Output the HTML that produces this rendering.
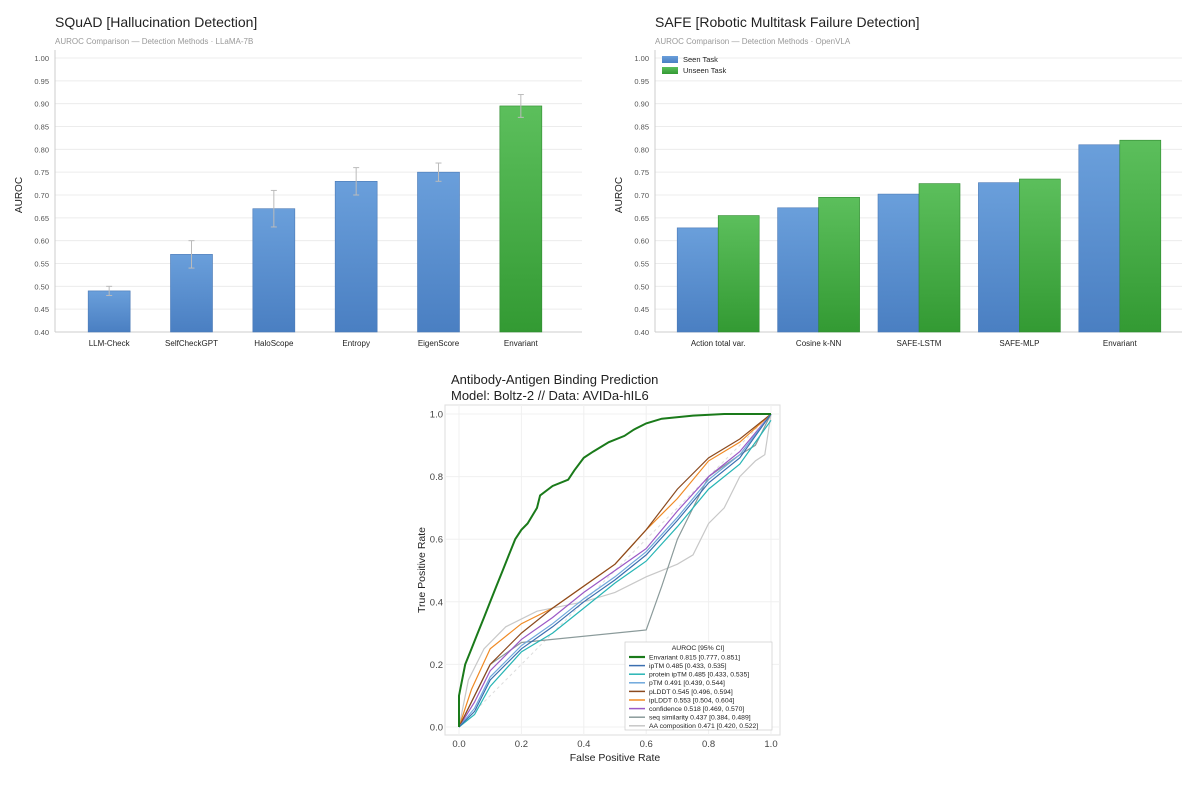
<!DOCTYPE html>
<html><head><meta charset="utf-8"><style>
body{margin:0;background:#fff;font-family:"Liberation Sans",sans-serif}
svg text{font-family:"Liberation Sans",sans-serif}
</style></head><body>
<svg id="s" width="1200" height="783" xmlns="http://www.w3.org/2000/svg">
<text x="55" y="27" font-size="14" fill="#222">SQuAD  [Hallucination Detection]</text>
<text x="55" y="44" font-size="8" fill="#999">AUROC Comparison — Detection Methods  ·  LLaMA-7B</text>
<text x="655" y="27" font-size="14" fill="#222">SAFE [Robotic Multitask Failure Detection]</text>
<text x="655" y="44" font-size="8" fill="#999">AUROC Comparison — Detection Methods  ·  OpenVLA</text>
<text x="451" y="384" font-size="13" fill="#222">Antibody-Antigen Binding Prediction</text>
<text x="451" y="400" font-size="13" fill="#222">Model: Boltz-2 // Data: AVIDa-hIL6</text>
<defs>
<linearGradient id="gb" x1="0" y1="0" x2="0" y2="1"><stop offset="0" stop-color="#6a9fdb"/><stop offset="1" stop-color="#4a7fc2"/></linearGradient>
<linearGradient id="gg" x1="0" y1="0" x2="0" y2="1"><stop offset="0" stop-color="#5cbf5c"/><stop offset="1" stop-color="#339a33"/></linearGradient>
</defs>
<g id="g1"></g><g id="g2"></g><g id="g3"></g>
</svg>
<script>
const squadCats=["LLM-Check","SelfCheckGPT","HaloScope","Entropy","EigenScore","Envariant"];
const squadVals=[0.49,0.57,0.67,0.73,0.75,0.895];
const squadErr=[0.01,0.03,0.04,0.03,0.02,0.025];
const safeCats=["Action total var.","Cosine k-NN","SAFE-LSTM","SAFE-MLP","Envariant"];
const safeSeen=[0.628,0.672,0.702,0.727,0.81];
const safeUnseen=[0.655,0.695,0.725,0.735,0.82];
const barTicks=["0.40","0.45","0.50","0.55","0.60","0.65","0.70","0.75","0.80","0.85","0.90","0.95","1.00"];
const rocTicks=["0.0","0.2","0.4","0.6","0.8","1.0"];
const rocNames=["Envariant  0.815 [0.777, 0.851]","ipTM  0.485 [0.433, 0.535]","protein ipTM  0.485 [0.433, 0.535]","pTM  0.491 [0.439, 0.544]","pLDDT  0.545 [0.496, 0.594]","ipLDDT  0.553 [0.504, 0.604]","confidence  0.518 [0.469, 0.570]","seq similarity  0.437 [0.384, 0.489]","AA composition  0.471 [0.420, 0.522]"];
const rocEnvariant=[[0,0],[0,0.1],[0.01,0.15],[0.02,0.2],[0.04,0.25],[0.06,0.3],[0.08,0.35],[0.1,0.4],[0.12,0.45],[0.14,0.5],[0.16,0.55],[0.18,0.6],[0.2,0.63],[0.22,0.65],[0.25,0.7],[0.26,0.74],[0.3,0.77],[0.35,0.79],[0.37,0.82],[0.4,0.86],[0.43,0.88],[0.48,0.91],[0.53,0.93],[0.56,0.95],[0.6,0.97],[0.65,0.985],[0.75,0.995],[0.85,1],[1,1]];
const rocIptm=[[0,0],[0.05,0.05],[0.1,0.15],[0.2,0.25],[0.3,0.32],[0.4,0.4],[0.5,0.47],[0.6,0.55],[0.7,0.66],[0.8,0.78],[0.9,0.86],[1,1]];
const rocProtIptm=[[0,0],[0.05,0.04],[0.1,0.13],[0.2,0.24],[0.3,0.3],[0.4,0.38],[0.5,0.46],[0.6,0.53],[0.7,0.64],[0.8,0.76],[0.9,0.84],[1,0.98]];
const rocPtm=[[0,0],[0.05,0.06],[0.1,0.16],[0.2,0.26],[0.3,0.33],[0.4,0.41],[0.5,0.48],[0.6,0.56],[0.7,0.67],[0.8,0.79],[0.9,0.87],[1,1]];
const rocPlddt=[[0,0],[0.05,0.1],[0.1,0.2],[0.2,0.3],[0.3,0.38],[0.4,0.45],[0.5,0.52],[0.6,0.63],[0.7,0.76],[0.8,0.86],[0.9,0.92],[1,1]];
const rocIplddt=[[0,0],[0.04,0.12],[0.1,0.25],[0.2,0.33],[0.3,0.38],[0.4,0.45],[0.5,0.52],[0.6,0.63],[0.7,0.73],[0.8,0.85],[0.9,0.91],[1,1]];
const rocConf=[[0,0],[0.05,0.08],[0.1,0.18],[0.2,0.28],[0.3,0.35],[0.4,0.43],[0.5,0.5],[0.6,0.57],[0.7,0.69],[0.8,0.8],[0.9,0.88],[1,1]];
const rocSeq=[[0,0],[0.05,0.1],[0.1,0.2],[0.2,0.27],[0.6,0.31],[0.65,0.45],[0.7,0.6],[0.75,0.7],[0.8,0.8],[0.9,0.87],[0.95,0.9],[1,1]];
const rocAA=[[0,0],[0.03,0.15],[0.08,0.25],[0.15,0.32],[0.25,0.37],[0.4,0.4],[0.5,0.43],[0.6,0.48],[0.7,0.52],[0.75,0.55],[0.8,0.65],[0.85,0.7],[0.9,0.8],[0.95,0.85],[0.98,0.87],[1,1]];
const NS="http://www.w3.org/2000/svg";
function mk(p,t,a){const e=document.createElementNS(NS,t);for(const k in a)e.setAttribute(k,a[k]);p.appendChild(e);return e;}
function barChart(g,x0,x1,b0,b1,cats,drawBars){
  const y=v=>58+(1-v)/0.6*274;
  barTicks.forEach(t=>{const v=+t;const yy=y(v);
    const l=mk(g,'line',{x1:x0,x2:x1,y1:yy,y2:yy,stroke:'#ececec'});
    const tx=mk(g,'text',{x:x0-6,y:yy+3,'font-size':7.5,fill:'#555','text-anchor':'end'});tx.textContent=t;});
  mk(g,'line',{x1:x0,x2:x0,y1:50,y2:332,stroke:'#ccc'});
  mk(g,'line',{x1:x0,x2:x1,y1:332,y2:332,stroke:'#ccc'});
  const yt=mk(g,'text',{x:0,y:0,'font-size':10,fill:'#222','text-anchor':'middle',transform:`translate(${x0-33},195) rotate(-90)`});yt.textContent='AUROC';
  const bw=(b1-b0)/cats.length;
  cats.forEach((c,i)=>{const cx=b0+bw*(i+0.5);
    const t=mk(g,'text',{x:cx,y:346,'font-size':8,fill:'#222','text-anchor':'middle'});t.textContent=c;
    drawBars(cx,i,y);});
}
const g1=document.getElementById('g1');
barChart(g1,55,582,68,562,squadCats,(cx,i,y)=>{
  const v=squadVals[i],w=42;
  const r=mk(g1,'rect',{x:cx-w/2,y:y(v),width:w,height:332-y(v),fill:i==5?'url(#gg)':'url(#gb)',stroke:i==5?'#2f8a2f':'#4a78b5','stroke-width':0.6});
  
  const e=squadErr[i];
  mk(g1,'line',{x1:cx,x2:cx,y1:y(v+e),y2:y(v-e),stroke:'#bbb'});
  mk(g1,'line',{x1:cx-3,x2:cx+3,y1:y(v+e),y2:y(v+e),stroke:'#bbb'});
  mk(g1,'line',{x1:cx-3,x2:cx+3,y1:y(v-e),y2:y(v-e),stroke:'#bbb'});
});
const g2=document.getElementById('g2');
barChart(g2,655,1182,668,1170,safeCats,(cx,i,y)=>{
  const w=41;
  [[safeSeen[i],cx-w,'url(#gb)','#4a78b5','seen'],[safeUnseen[i],cx,'url(#gg)','#2f8a2f','unseen']].forEach(([v,x,f,s,n])=>{
    const r=mk(g2,'rect',{x:x,y:y(v),width:w,height:332-y(v),fill:f,stroke:s,'stroke-width':0.6});
    });
});
[["Seen Task",'url(#gb)',62],["Unseen Task",'url(#gg)',73]].forEach(([t,f,yy])=>{
  const r=mk(g2,'rect',{x:662,y:yy-6,width:16,height:7,fill:f});
  const tx=mk(g2,'text',{x:683,y:yy,'font-size':7.5,fill:'#222'});tx.textContent=t;});
// ROC
const g3=document.getElementById('g3');
const X=v=>459+v*312, Y=v=>727-v*313;
mk(g3,'rect',{x:445,y:405,width:335,height:330,fill:'none',stroke:'#ddd'});
rocTicks.forEach(t=>{const v=+t;
  mk(g3,'line',{x1:X(v),x2:X(v),y1:405,y2:735,stroke:'#f0f0f0'});
  mk(g3,'line',{x1:445,x2:780,y1:Y(v),y2:Y(v),stroke:'#f0f0f0'});
  const a=mk(g3,'text',{x:X(v),y:747,'font-size':9.5,fill:'#444','text-anchor':'middle'});a.textContent=t;
  const b=mk(g3,'text',{x:443,y:Y(v)+3.5,'font-size':9.5,fill:'#444','text-anchor':'end'});b.textContent=t;});
const xt=mk(g3,'text',{x:615,y:761,'font-size':10.5,fill:'#222','text-anchor':'middle'});xt.textContent='False Positive Rate';
const ytt=mk(g3,'text',{x:0,y:0,'font-size':10.5,fill:'#222','text-anchor':'middle',transform:'translate(425,570) rotate(-90)'});ytt.textContent='True Positive Rate';
mk(g3,'line',{x1:X(0),y1:Y(0),x2:X(1),y2:Y(1),stroke:'#ddd','stroke-dasharray':'3,3'});
const series=[rocEnvariant,rocIptm,rocProtIptm,rocPtm,rocPlddt,rocIplddt,rocConf,rocSeq,rocAA];
const cols=['#1a7a1a','#3b6fb0','#27b5b5','#6fa8dc','#8b4a1f','#f08a24','#9b59c6','#8a9a9a','#c8c8c8'];
const widths=[2,1.2,1.2,1.2,1.2,1.2,1.2,1.2,1.2];
for(let i=series.length-1;i>=0;i--){
  let d='';series[i].forEach((p,j)=>{d+=(j?'L':'M')+X(p[0]).toFixed(1)+','+Y(p[1]).toFixed(1);});
  const pth=mk(g3,'path',{d:d,fill:'none',stroke:cols[i],'stroke-width':widths[i]});
  
}
const lg=mk(g3,'rect',{x:625,y:642,width:147,height:88,fill:'#fff',stroke:'#ccc','stroke-width':0.7});

const lt=mk(g3,'text',{x:698,y:650,'font-size':6.8,fill:'#222','text-anchor':'middle'});lt.textContent='AUROC [95% CI]';
rocNames.forEach((n,i)=>{const yy=657+i*8.6;
  mk(g3,'line',{x1:629,x2:645,y1:yy,y2:yy,stroke:cols[i],'stroke-width':i?1.5:2.2});
  const t=mk(g3,'text',{x:649,y:yy+2.4,'font-size':6.8,fill:'#222'});t.textContent=n;});
</script>
</body></html>
